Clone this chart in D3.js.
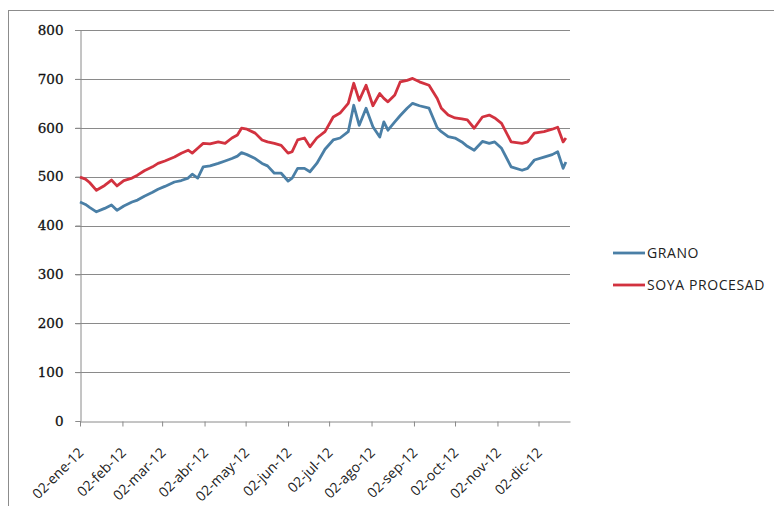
<!DOCTYPE html>
<html>
<head>
<meta charset="utf-8">
<script src="https://cdn.jsdelivr.net/npm/d3@7"></script>
<style>
  html, body { margin: 0; padding: 0; background: #fff; }
  svg { display: block; }
</style>
</head>
<body>
<svg id="chart" width="774" height="506"></svg>
<script>
// Observation dates (2012) shared by both series
const dates = [
  "2012-01-02","2012-01-06","2012-01-09","2012-01-14","2012-01-20","2012-01-25","2012-01-29",
  "2012-02-03","2012-02-09","2012-02-13","2012-02-18","2012-02-24","2012-02-28",
  "2012-03-04","2012-03-11","2012-03-16","2012-03-21","2012-03-24","2012-03-28",
  "2012-04-01","2012-04-06","2012-04-12","2012-04-17","2012-04-22","2012-04-26","2012-04-29",
  "2012-05-03","2012-05-09","2012-05-14","2012-05-18","2012-05-23","2012-05-28",
  "2012-06-02","2012-06-05","2012-06-09","2012-06-14","2012-06-18","2012-06-23","2012-06-29",
  "2012-07-05","2012-07-10","2012-07-16","2012-07-20","2012-07-24","2012-07-29",
  "2012-08-03","2012-08-08","2012-08-11","2012-08-14","2012-08-19","2012-08-23","2012-08-28",
  "2012-09-01","2012-09-06","2012-09-13","2012-09-19","2012-09-22","2012-09-27",
  "2012-10-02","2012-10-07","2012-10-11","2012-10-16","2012-10-22","2012-10-27","2012-10-31",
  "2012-11-05","2012-11-12","2012-11-20","2012-11-24","2012-11-29",
  "2012-12-06","2012-12-12","2012-12-16","2012-12-20","2012-12-22"
];

const grano = [
  448,443,437,428,435,442,431,
  440,448,452,460,468,474,
  480,489,492,497,505,497,
  520,522,527,532,537,542,549,
  545,537,527,522,507,507,
  491,497,517,517,510,527,556,
  575,579,592,646,605,640,
  602,581,612,595,612,625,640,
  650,645,640,600,592,582,
  579,571,562,554,572,568,571,
  558,520,513,517,534,
  540,545,551,517,530
];

const soyaProcesada = [
  499,495,488,472,482,493,481,
  492,497,503,512,520,527,
  532,540,548,554,548,558,
  568,567,571,568,579,585,599,
  597,589,575,571,568,564,
  548,551,575,579,561,579,592,
  622,630,650,691,656,687,
  645,670,660,653,667,694,697,
  701,694,687,660,640,626,
  620,618,616,599,622,626,620,
  609,571,568,571,589,
  592,597,601,571,579
];

// Legend labels as they appear in the chart legend
const seriesNames = ["GRANO", "SOYA PROCESAD"];
const seriesColors = ["#4a7fa6", "#d2323f"];

const yTicks = [0, 100, 200, 300, 400, 500, 600, 700, 800];
const xTickDates = [
  "2012-01-02","2012-02-02","2012-03-02","2012-04-02","2012-05-02","2012-06-02",
  "2012-07-02","2012-08-02","2012-09-02","2012-10-02","2012-11-02","2012-12-02"
];
const monthAbbr = ["ene","feb","mar","abr","may","jun","jul","ago","sep","oct","nov","dic"];

const parse = d3.timeParse("%Y-%m-%d");
const svg = d3.select("#chart");

// Outer chart frame
svg.append("rect")
  .attr("x", 8.5).attr("y", 10.5)
  .attr("width", 900).attr("height", 700)
  .attr("fill", "#fff").attr("stroke", "#8c8c8c").attr("stroke-width", 1);

const plot = { left: 80, right: 570, top: 30, bottom: 421 };

const x = d3.scaleTime()
  .domain([parse("2012-01-02"), parse("2012-12-25")])
  .range([plot.left, plot.right]);

const y = d3.scaleLinear()
  .domain([0, 800])
  .range([plot.bottom, plot.top]);

// Horizontal gridlines
svg.append("g")
  .selectAll("line")
  .data(yTicks.filter(v => v > 0))
  .join("line")
  .attr("x1", plot.left - 5).attr("x2", plot.right)
  .attr("y1", d => Math.round(y(d)) + 0.5).attr("y2", d => Math.round(y(d)) + 0.5)
  .attr("stroke", "#8a8a8a").attr("stroke-width", 1);

// Y axis
const yAxis = svg.append("g")
  .attr("transform", `translate(${plot.left + 0.5},0)`)
  .call(d3.axisLeft(y).tickValues(yTicks).tickSize(5).tickPadding(12).tickFormat(d3.format("d")));
yAxis.select(".domain").attr("stroke", "#8a8a8a");
yAxis.selectAll(".tick line").attr("stroke", "#8a8a8a");
yAxis.selectAll(".tick text")
  .attr("font-family", "'DejaVu Serif', serif")
  .attr("font-size", 13.5)
  .attr("fill", "#111")
  .attr("stroke", "#111")
  .attr("stroke-width", 0.3);

// X axis with rotated month labels
const xAxis = svg.append("g")
  .attr("transform", `translate(0,${plot.bottom + 0.5})`)
  .call(d3.axisBottom(x)
    .tickValues(xTickDates.map(parse))
    .tickSize(5)
    .tickSizeOuter(0)
    .tickFormat(d => "02-" + monthAbbr[d.getMonth()] + "-12"));
xAxis.select(".domain").attr("stroke", "#8a8a8a");
xAxis.selectAll(".tick line").attr("stroke", "#8a8a8a");
xAxis.selectAll(".tick text")
  .attr("font-family", "'Open Sans', sans-serif")
  .attr("font-size", 14)
  .attr("fill", "#222")
  .attr("text-anchor", "end")
  .attr("x", 0).attr("y", 0).attr("dy", 0)
  .attr("transform", "translate(4,32) rotate(-45)");

// Lines
const seriesData = [grano, soyaProcesada];
const line = d3.line()
  .x((d, i) => x(parse(dates[i])))
  .y(d => y(d))
  .curve(d3.curveLinear);

svg.append("g")
  .selectAll("path")
  .data(seriesData)
  .join("path")
  .attr("d", d => line(d))
  .attr("fill", "none")
  .attr("stroke", (d, i) => seriesColors[i])
  .attr("stroke-width", 2.8)
  .attr("stroke-linejoin", "round");

// Legend
const legend = svg.append("g");
const legendY = [253, 285];
seriesNames.forEach((name, i) => {
  legend.append("line")
    .attr("x1", 613).attr("x2", 645)
    .attr("y1", legendY[i]).attr("y2", legendY[i])
    .attr("stroke", seriesColors[i]).attr("stroke-width", 2.8);
  legend.append("text")
    .attr("x", 647).attr("y", legendY[i] + 5)
    .attr("font-family", "'Open Sans', sans-serif")
    .attr("font-size", 14)
    .attr("letter-spacing", 0.6)
    .attr("fill", "#222")
    .text(name);
});
</script>
</body>
</html>
